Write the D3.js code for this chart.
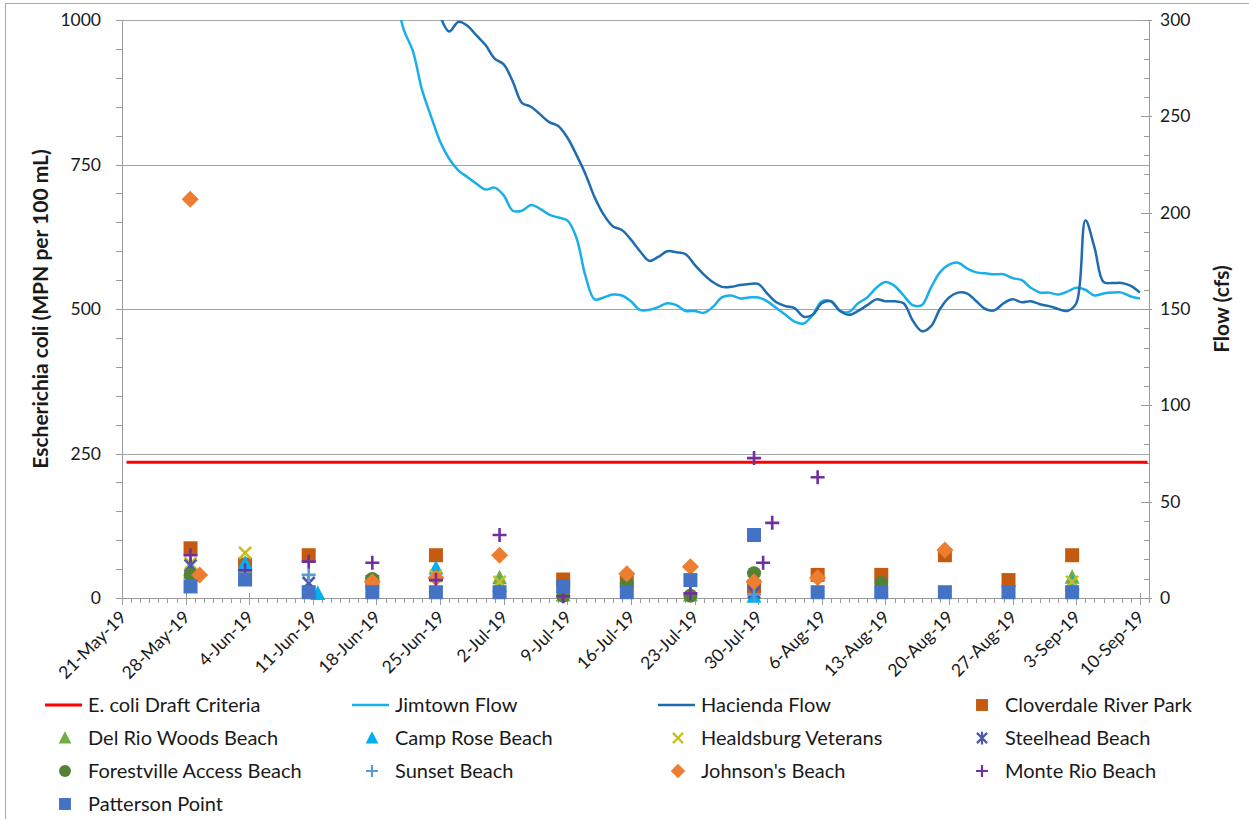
<!DOCTYPE html>
<html>
<head>
<meta charset="utf-8">
<script src="https://cdn.jsdelivr.net/npm/d3@7"></script>
<style>
  body { margin: 0; background: #fff; }
  svg { display: block; font-family: Lato, "Open Sans", "Liberation Sans", sans-serif; }
</style>
</head>
<body>
<svg id="chart" width="1249" height="819"></svg>
<script>
// ---- Data ----------------------------------------------------------
const axisStart = "2019-05-21";
const axisEnd = "2019-09-11";
const ecoliTicks = [0, 250, 500, 750, 1000];
const flowTicks = [0, 50, 100, 150, 200, 250, 300];

// Single-sample E. coli draft criteria (MPN per 100 mL)
const criteriaValue = 235;
const criteriaSpan = ["2019-05-21 12:00", "2019-09-10 20:00"];

// Daily mean flow (cfs), consecutive days from the start date
const jimtownStart = "2019-06-17";
const jimtownFlow = [360, 345, 330, 315, 295, 284, 264, 250, 237, 228, 222, 218.5, 215, 212, 213, 209,
  201, 201, 204, 202, 199, 197.5, 196, 187, 167, 155, 156, 157.5, 157, 154, 149.5, 149.5, 151, 153,
  152, 149, 149, 148, 151, 156, 157, 155.5, 156, 156, 154, 150.5, 147, 143.5, 142.5, 147, 154, 154,
  149, 148.5, 153, 156, 161, 164, 162, 157, 152, 152, 161, 169, 173, 174, 171, 169, 168.5, 168, 168,
  166, 165, 161, 158.5, 158.5, 157.5, 159, 161, 160, 157, 158, 158.5, 158.5, 156.5, 155.5];

const haciendaStart = "2019-06-23";
const haciendaFlow = [335, 318, 302, 294, 299, 297, 292, 287, 280, 277, 268, 257, 255, 251, 247, 245,
  239, 230, 220, 208, 199, 193, 191, 186, 180, 175, 177, 180, 179.5, 178.5, 173, 168, 164, 161.5,
  161.5, 162.4, 163, 163, 158, 153.5, 151.5, 150.5, 146, 147, 153, 154, 149, 147, 149, 152, 155, 154,
  154, 153, 144, 138.5, 141, 150, 156, 158.5, 158, 154, 150, 149.3, 153, 155, 153.5, 154, 152.5,
  151.5, 150, 149, 153, 196, 182, 164, 163.5, 163.5, 162, 158.5];

// E. coli results by beach (sample date/time, MPN per 100 mL)
const cloverdale = [["2019-05-28 13:00", 86], ["2019-06-03 13:00", 58], ["2019-06-10 13:00", 74],
  ["2019-06-17 13:00", 28], ["2019-06-24 13:00", 74], ["2019-07-08 13:00", 32], ["2019-07-15 13:00", 30],
  ["2019-07-29 13:00", 20], ["2019-08-05 13:00", 40], ["2019-08-12 13:00", 40], ["2019-08-19 13:00", 74],
  ["2019-08-26 13:00", 31], ["2019-09-02 13:00", 74]];
const delRio = [["2019-05-28 13:00", 45], ["2019-06-03 13:00", 55], ["2019-07-01 13:00", 35],
  ["2019-07-08 13:00", 5], ["2019-07-22 13:00", 5], ["2019-09-02 13:00", 36]];
const campRose = [["2019-06-03 13:00", 60], ["2019-06-11 13:00", 8], ["2019-06-24 13:00", 52],
  ["2019-07-01 13:00", 22], ["2019-07-29 13:00", 3], ["2019-09-02 13:00", 25]];
const healdsburg = [["2019-05-28 13:00", 60], ["2019-06-03 13:00", 78], ["2019-06-24 13:00", 38],
  ["2019-07-01 13:00", 28], ["2019-09-02 13:00", 28]];
const steelhead = [["2019-05-28 13:00", 56], ["2019-06-10 13:00", 26], ["2019-07-29 13:00", 10]];
const forestville = [["2019-05-28 13:00", 40], ["2019-06-17 13:00", 33], ["2019-07-08 13:00", 4],
  ["2019-07-15 13:00", 25], ["2019-07-22 13:00", 4], ["2019-07-29 13:00", 43], ["2019-08-12 13:00", 26]];
const sunset = [["2019-06-10 13:00", 40], ["2019-07-29 13:00", 6]];
const johnsons = [["2019-05-28 12:00", 690], ["2019-05-29 13:00", 40], ["2019-06-17 13:00", 28],
  ["2019-06-24 13:00", 35], ["2019-07-01 13:00", 74], ["2019-07-15 13:00", 42], ["2019-07-22 13:00", 54],
  ["2019-07-29 13:00", 28], ["2019-08-05 13:00", 35], ["2019-08-19 13:00", 83]];
const monteRio = [["2019-05-28 13:00", 74], ["2019-06-03 13:00", 48], ["2019-06-10 13:00", 63],
  ["2019-06-17 13:00", 61], ["2019-06-24 13:00", 31], ["2019-07-01 13:00", 109], ["2019-07-08 13:00", 3],
  ["2019-07-22 13:00", 8], ["2019-07-29 13:00", 242], ["2019-07-30 13:00", 61], ["2019-07-31 13:00", 130],
  ["2019-08-05 13:00", 209]];
const patterson = [["2019-05-28 13:00", 20], ["2019-06-03 13:00", 32], ["2019-06-10 13:00", 10],
  ["2019-06-17 13:00", 10], ["2019-06-24 13:00", 10], ["2019-07-01 13:00", 10], ["2019-07-08 13:00", 20],
  ["2019-07-15 13:00", 10], ["2019-07-22 13:00", 31], ["2019-07-29 13:00", 109], ["2019-08-05 13:00", 10],
  ["2019-08-12 13:00", 10], ["2019-08-19 13:00", 10], ["2019-08-26 13:00", 10], ["2019-09-02 13:00", 10]];

// ---- Styling -------------------------------------------------------
const sites = [
  { name: "Cloverdale River Park", data: cloverdale, shape: "square", color: "#C55A11" },
  { name: "Del Rio Woods Beach", data: delRio, shape: "triangle", color: "#70AD47" },
  { name: "Camp Rose Beach", data: campRose, shape: "triangle", color: "#00B0F0" },
  { name: "Healdsburg Veterans", data: healdsburg, shape: "times", color: "#C9BE1C" },
  { name: "Steelhead Beach", data: steelhead, shape: "asterisk", color: "#4B5BA8" },
  { name: "Forestville Access Beach", data: forestville, shape: "circle", color: "#548235" },
  { name: "Sunset Beach", data: sunset, shape: "plus", color: "#5B9BD5" },
  { name: "Johnson's Beach", data: johnsons, shape: "diamond", color: "#ED7D31" },
  { name: "Monte Rio Beach", data: monteRio, shape: "plus", color: "#7030A0" },
  { name: "Patterson Point", data: patterson, shape: "square", color: "#4472C4" }
];
const criteriaColor = "#FF0000";
const jimtownColor = "#1AAFEA";
const haciendaColor = "#1F6CB0";

// ---- Setup ---------------------------------------------------------
const parseDay = d3.timeParse("%Y-%m-%d");
const parseTime = d3.timeParse("%Y-%m-%d %H:%M");
const plot = { left: 122, right: 1149, top: 20, bottom: 598 };

const x = d3.scaleTime().domain([parseDay(axisStart), parseDay(axisEnd)]).range([plot.left, plot.right]);
const yE = d3.scaleLinear().domain([0, 1000]).range([plot.bottom, plot.top]);
const yF = d3.scaleLinear().domain([0, 300]).range([plot.bottom, plot.top]);

const svg = d3.select("#chart");
const axisGrey = "#9A9A9A";
const textColor = "#1a1a1a";

// outer chart border
svg.append("rect").attr("x", 5.5).attr("y", 3.5).attr("width", 1400).attr("height", 1000)
  .attr("fill", "none").attr("stroke", "#A8A8A8").attr("stroke-width", 1);

svg.append("defs").append("clipPath").attr("id", "plotClip")
  .append("rect").attr("x", plot.left).attr("y", plot.top)
  .attr("width", plot.right - plot.left).attr("height", plot.bottom - plot.top);

// horizontal gridlines
svg.append("g").selectAll("line").data(ecoliTicks.filter(v => v > 0)).join("line")
  .attr("x1", plot.left).attr("x2", plot.right)
  .attr("y1", d => Math.round(yE(d)) + 0.5).attr("y2", d => Math.round(yE(d)) + 0.5)
  .attr("stroke", "#A6A6A6").attr("stroke-width", 1);

// ---- Axes ----------------------------------------------------------
const start = parseDay(axisStart), end = parseDay(axisEnd);
const dayTicks = d3.timeDay.range(start, d3.timeDay.offset(end, 1));
const weekTicks = d3.timeTuesday.range(start, end);
const fmt = d3.timeFormat("%-d-%b-%y");

const gx = svg.append("g");
gx.append("line").attr("x1", plot.left).attr("x2", plot.right)
  .attr("y1", plot.bottom + 0.5).attr("y2", plot.bottom + 0.5).attr("stroke", axisGrey);
gx.selectAll("line.minor").data(dayTicks).join("line").attr("class", "minor")
  .attr("x1", d => Math.round(x(d)) + 0.5).attr("x2", d => Math.round(x(d)) + 0.5)
  .attr("y1", plot.bottom).attr("y2", plot.bottom + 5).attr("stroke", axisGrey);
gx.selectAll("line.major").data(weekTicks).join("line").attr("class", "major")
  .attr("x1", d => Math.round(x(d)) + 0.5).attr("x2", d => Math.round(x(d)) + 0.5)
  .attr("y1", plot.bottom - 5).attr("y2", plot.bottom + 7).attr("stroke", axisGrey);
gx.selectAll("text").data(weekTicks).join("text")
  .attr("transform", d => `translate(${x(d) + 1},${plot.bottom + 16}) rotate(-45)`)
  .attr("text-anchor", "end").attr("dy", "0.35em")
  .attr("font-size", 17.5).attr("fill", textColor)
  .text(d => fmt(d));

// left axis
const yMinorE = d3.range(0, 1001, 50);
const gl = svg.append("g");
gl.append("line").attr("x1", plot.left + 0.5).attr("x2", plot.left + 0.5)
  .attr("y1", plot.top).attr("y2", plot.bottom).attr("stroke", axisGrey);
gl.selectAll("line.t").data(yMinorE).join("line").attr("class", "t")
  .attr("x1", plot.left - 6).attr("x2", plot.left)
  .attr("y1", d => Math.round(yE(d)) + 0.5).attr("y2", d => Math.round(yE(d)) + 0.5)
  .attr("stroke", axisGrey);
gl.selectAll("text").data(ecoliTicks).join("text")
  .attr("x", plot.left - 21).attr("y", d => yE(d)).attr("dy", "0.35em")
  .attr("text-anchor", "end").attr("font-size", 17.5).attr("fill", textColor)
  .text(d => d);
svg.append("text").attr("transform", `translate(48,${(plot.top + plot.bottom) / 2}) rotate(-90)`)
  .attr("text-anchor", "middle").attr("font-size", 21).attr("font-weight", "bold").attr("fill", textColor)
  .text("Escherichia coli (MPN per 100 mL)");

// right axis
const yMinorF = d3.range(0, 301, 10);
const gr = svg.append("g");
gr.append("line").attr("x1", plot.right + 0.5).attr("x2", plot.right + 0.5)
  .attr("y1", plot.top).attr("y2", plot.bottom).attr("stroke", axisGrey);
gr.selectAll("line.t").data(yMinorF).join("line").attr("class", "t")
  .attr("x1", plot.right - 5).attr("x2", plot.right)
  .attr("y1", d => Math.round(yF(d)) + 0.5).attr("y2", d => Math.round(yF(d)) + 0.5)
  .attr("stroke", axisGrey);
gr.selectAll("line.m").data(flowTicks).join("line").attr("class", "m")
  .attr("x1", plot.right - 8).attr("x2", plot.right + 3)
  .attr("y1", d => Math.round(yF(d)) + 0.5).attr("y2", d => Math.round(yF(d)) + 0.5)
  .attr("stroke", axisGrey);
gr.selectAll("text").data(flowTicks).join("text")
  .attr("x", plot.right + 11).attr("y", d => yF(d)).attr("dy", "0.35em")
  .attr("text-anchor", "start").attr("font-size", 17.5).attr("fill", textColor)
  .text(d => d);
svg.append("text").attr("transform", `translate(1229,${(plot.top + plot.bottom) / 2}) rotate(-90)`)
  .attr("text-anchor", "middle").attr("font-size", 21).attr("font-weight", "bold").attr("fill", textColor)
  .text("Flow (cfs)");

// ---- Criteria line -------------------------------------------------
svg.append("line")
  .attr("x1", x(parseTime(criteriaSpan[0]))).attr("x2", x(parseTime(criteriaSpan[1])))
  .attr("y1", yE(criteriaValue)).attr("y2", yE(criteriaValue))
  .attr("stroke", criteriaColor).attr("stroke-width", 3);

// ---- Flow lines ----------------------------------------------------
const flowLine = d3.line().x(d => x(d.date)).y(d => yF(d.value)).curve(d3.curveCatmullRom.alpha(0.5));
function daily(startStr, values) {
  const s = parseDay(startStr);
  return values.map((v, i) => ({ date: d3.timeDay.offset(s, i), value: v }));
}
const flowG = svg.append("g").attr("clip-path", "url(#plotClip)");
flowG.append("path").datum(daily(jimtownStart, jimtownFlow))
  .attr("d", flowLine).attr("fill", "none").attr("stroke", jimtownColor).attr("stroke-width", 2.5)
  .attr("stroke-linejoin", "round");
flowG.append("path").datum(daily(haciendaStart, haciendaFlow))
  .attr("d", flowLine).attr("fill", "none").attr("stroke", haciendaColor).attr("stroke-width", 2.5)
  .attr("stroke-linejoin", "round");

// ---- Markers -------------------------------------------------------
function markerPath(shape) {
  switch (shape) {
    case "square": return "M-7,-7H7V7H-7Z";
    case "triangle": return "M0,-8L7.5,6.5H-7.5Z";
    case "circle": return "M7,0A7,7 0 1,1 -7,0A7,7 0 1,1 7,0Z";
    case "diamond": return "M0,-8.5L8.5,0L0,8.5L-8.5,0Z";
    case "times": return "M-6,-6L6,6M6,-6L-6,6";
    case "asterisk": return "M-6,-6L6,6M6,-6L-6,6M0,-7.5V7.5";
    case "plus": return "M-7,0H7M0,-7V7";
  }
}
const strokeShapes = new Set(["times", "asterisk", "plus"]);
function styleMarker(sel, site) {
  sel.attr("d", markerPath(site.shape));
  if (strokeShapes.has(site.shape)) {
    sel.attr("fill", "none").attr("stroke", site.color).attr("stroke-width", 2.6);
  } else {
    sel.attr("fill", site.color).attr("stroke", "none");
  }
}
const markG = svg.append("g");
sites.forEach(site => {
  markG.append("g").selectAll("path").data(site.data).join("path")
    .attr("transform", d => `translate(${x(parseTime(d[0]))},${yE(d[1])})`)
    .call(styleMarker, site);
});

// ---- Legend --------------------------------------------------------
const legendItems = [
  { name: "E. coli Draft Criteria", line: criteriaColor, w: 3 },
  { name: "Jimtown Flow", line: jimtownColor, w: 2.5 },
  { name: "Hacienda Flow", line: haciendaColor, w: 2.5 },
  ...sites
];
const colX = [45, 352, 658, 962];
const rowY = [705, 738, 771, 804];
const leg = svg.append("g");
legendItems.forEach((item, i) => {
  const cx = colX[i % 4], cy = rowY[Math.floor(i / 4)];
  const g = leg.append("g").attr("transform", `translate(${cx},${cy})`);
  if (item.line) {
    g.append("line").attr("x1", 0).attr("x2", 37).attr("y1", 0).attr("y2", 0)
      .attr("stroke", item.line).attr("stroke-width", item.w);
  } else {
    g.append("path").attr("transform", "translate(20,0) scale(0.85)").call(styleMarker, item);
  }
  g.append("text").attr("x", 43).attr("y", 0).attr("dy", "0.35em")
    .attr("font-size", 20).attr("fill", textColor).text(item.name);
});
</script>
</body>
</html>
